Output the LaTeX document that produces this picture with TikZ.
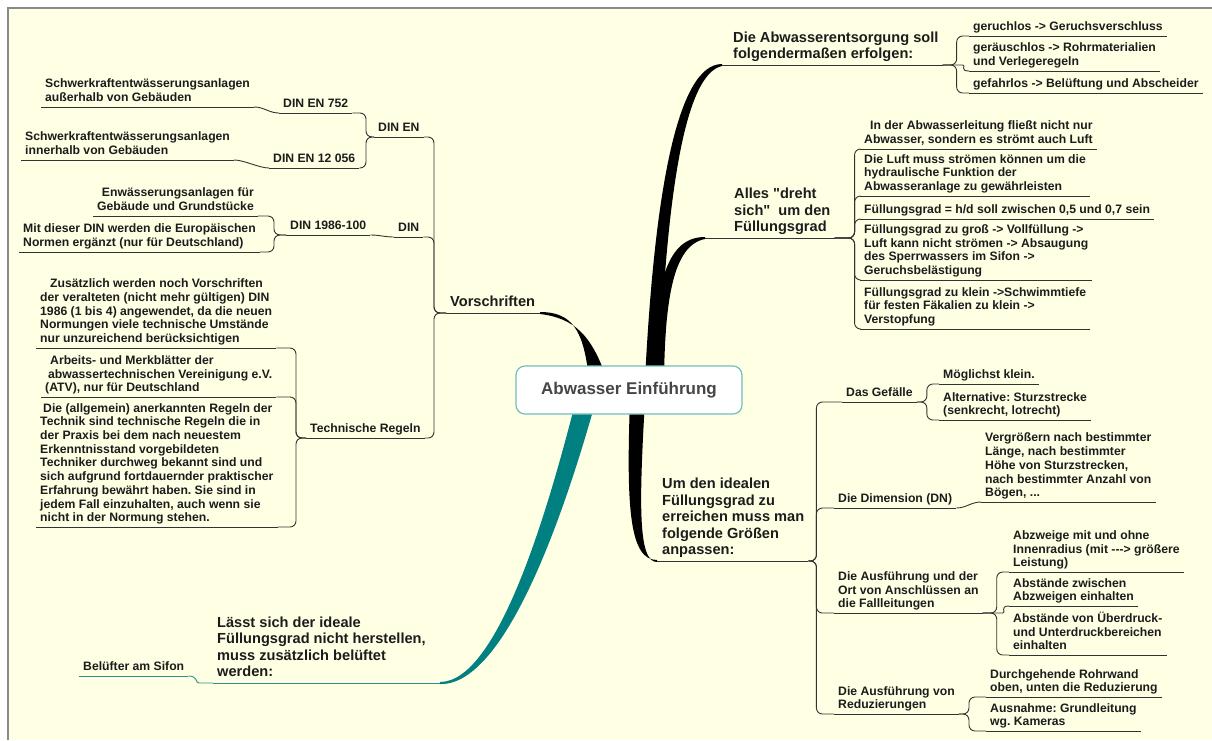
\documentclass[tikz,border=0pt]{standalone}
\usepackage{fontspec}
\setmainfont{Liberation Sans}[Ligatures=TeXOff]
\usepackage{tikz}
\frenchspacing

\definecolor{paper}{HTML}{FFFFE4}
\definecolor{framegray}{HTML}{8A8A8A}
\definecolor{ink}{HTML}{1C1C1C}
\definecolor{wirec}{HTML}{333333}
\definecolor{tealbr}{HTML}{008080}
\definecolor{tealln}{HTML}{2F8F8F}
\definecolor{boxline}{HTML}{72BDBD}
\definecolor{titlegray}{HTML}{464646}

\begin{document}
\begin{tikzpicture}[x=1pt,y=-1pt]

\tikzstyle{topic}=[anchor=south west,inner xsep=4pt,inner ysep=1pt,align=left,text=ink,execute at end node=\strut]
\tikzstyle{sm}=[topic,font=\fontsize{12.2}{13.7}\selectfont\bfseries]
\tikzstyle{lg}=[topic,font=\fontsize{14.6}{16.5}\selectfont\bfseries]
\tikzstyle{wire}=[draw=wirec,line width=0.9pt,rounded corners=6pt]
\tikzstyle{twire}=[wire,draw=tealln]
\tikzstyle{toR}=[to path={.. controls +(10,0) and +(-10,0) .. (\tikztotarget)}]
\tikzstyle{toL}=[to path={.. controls +(-10,0) and +(10,0) .. (\tikztotarget)}]

\useasboundingbox (0,0) rectangle (1212,740);
\fill[paper] (8,8) rectangle (1212,740);
\draw[framegray,line width=1.4pt] (8,740) -- (8,8) -- (1212,8);

%% thick branches out of the centre
\fill[black] (645,380) .. controls (654,200) and (676,64) .. (722,64) -- (722,66)
  .. controls (684,74) and (666,200) .. (659,380) -- cycle;
\fill[black] (651,380) .. controls (655,290) and (664,237) .. (705,237) -- (705,239)
  .. controls (673,245) and (665,300) .. (664,380) -- cycle;
\fill[black] (630,400) .. controls (626,510) and (630,560) .. (657,560) -- (657,562)
  .. controls (638,562) and (639,505) .. (645,400) -- cycle;
\fill[black] (589,380) .. controls (584,330) and (572,312) .. (540,312) -- (540,314)
  .. controls (574,318) and (592,335) .. (607,380) -- cycle;
\fill[tealbr] (576,400) .. controls (548,510) and (498,682) .. (440,682) -- (440,684)
  .. controls (505,686) and (564,515) .. (596,400) -- cycle;

\node[draw=boxline,fill=white,line width=1.2pt,rounded corners=9pt,minimum width=226pt,
  minimum height=48pt,font=\fontsize{17}{20}\selectfont\bfseries,text=titlegray] (c) at (629,390) {Abwasser Einführung};

%% right side
\node[lg] (ae) at (729,65) {Die Abwasserentsorgung soll\\folgendermaßen erfolgen:};
\node[sm] (g1) at (969,36) {geruchlos -> Geruchsverschluss};
\node[sm] (g2) at (969,71) {geräuschlos -> Rohrmaterialien\\und Verlegeregeln};
\node[sm] (g3) at (969,93) {gefahrlos -> Belüftung und Abscheider};

\node[lg] (ad) at (730,238) {Alles "dreht\\sich"~ um den\\Füllungsgrad};
\node[sm] (f1) at (860,149) {\hspace*{6pt}In der Abwasserleitung fließt nicht nur\\Abwasser, sondern es strömt auch Luft};
\node[sm] (f2) at (860,196) {Die Luft muss strömen können um die\\hydraulische Funktion der\\Abwasseranlage zu gewährleisten};
\node[sm] (f3) at (860,219) {Füllungsgrad = h/d soll zwischen 0,5 und 0,7 sein};
\node[sm] (f4) at (860,280) {Füllungsgrad zu groß -> Vollfüllung ->\\Luft kann nicht strömen -> Absaugung\\des Sperrwassers im Sifon ->\\Geruchsbelästigung};
\node[sm] (f5) at (860,329) {Füllungsgrad zu klein ->Schwimmtiefe\\für festen Fäkalien zu klein ->\\Verstopfung};

\node[lg] (um) at (658,561) {Um den idealen\\Füllungsgrad zu\\erreichen muss man\\folgende Größen\\anpassen:};
\node[sm] (ge) at (842,402) {Das Gefälle};
\node[sm] (ge1) at (939,384) {Möglichst klein.};
\node[sm] (ge2) at (939,420) {Alternative: Sturzstrecke\\(senkrecht, lotrecht)};
\node[sm] (di) at (834,508) {Die Dimension (DN)};
\node[sm] (di1) at (981,502) {Vergrößern nach bestimmter\\Länge, nach bestimmter\\Höhe von Sturzstrecken,\\nach bestimmter Anzahl von\\Bögen, ...};
\node[sm] (au) at (834,613) {Die Ausführung und der\\Ort von Anschlüssen an\\die Fallleitungen};
\node[sm] (au1) at (1009,572) {Abzweige mit und ohne\\Innenradius (mit ---> größere\\Leistung)};
\node[sm] (au2) at (1009,606) {Abstände zwischen\\Abzweigen einhalten};
\node[sm] (au3) at (1009,655) {Abstände von Überdruck-\\und Unterdruckbereichen\\einhalten};
\node[sm] (re) at (834,714) {Die Ausführung von\\Reduzierungen};
\node[sm] (re1) at (986,697) {Durchgehende Rohrwand\\oben, unten die Reduzierung};
\node[sm] (re2) at (986,731) {Ausnahme: Grundleitung\\wg. Kameras};

%% left side
\node[lg] (vo) at (446,313) {Vorschriften};
\node[sm] (de) at (374,137) {DIN EN};
\node[sm] (d752) at (279,113) {DIN EN 752};
\node[sm] (s1) at (41,107) {Schwerkraftentwässerungsanlagen\\außerhalb von Gebäuden};
\node[sm] (d12) at (269,168) {DIN EN 12 056};
\node[sm] (s2) at (21,160) {Schwerkraftentwässerungsanlagen\\innerhalb von Gebäuden};
\node[sm] (dn) at (394,237) {DIN};
\node[sm] (d1986) at (286,235) {DIN 1986-100};
\node[sm,align=right] (ew) at (93,216) {Enwässerungsanlagen für\\Gebäude und Grundstücke};
\node[sm] (mi) at (19,252) {Mit dieser DIN werden die Europäischen\\Normen ergänzt (nur für Deutschland)};
\node[sm] (tr) at (306,438) {Technische Regeln};
\node[sm] (zu) at (36,348) {\hspace*{10pt}Zusätzlich werden noch Vorschriften\\der veralteten (nicht mehr gültigen) DIN\\1986 (1 bis 4) angewendet, da die neuen\\Normungen viele technische Umstände\\nur unzureichend berücksichtigen};
\node[sm] (ar) at (41,397) {\hspace*{5pt}Arbeits- und Merkblätter der\\\hspace*{3pt}abwassertechnischen Vereinigung e.V.\\(ATV), nur für Deutschland};
\node[sm] (an) at (36,527) {\hspace*{3pt}Die (allgemein) anerkannten Regeln der\\Technik sind technische Regeln die in\\der Praxis bei dem nach neuestem\\Erkenntnisstand vorgebildeten\\Techniker durchweg bekannt sind und\\sich aufgrund fortdauernder praktischer\\Erfahrung bewährt haben. Sie sind in\\jedem Fall einzuhalten, auch wenn sie\\nicht in der Normung stehen.};

\node[lg] (la) at (213,683) {Lässt sich der ideale\\Füllungsgrad nicht herstellen,\\muss zusätzlich belüftet\\werden:};
\node[sm] (bs) at (79,676) {Belüfter am Sifon};

%% underlines
\foreach \n in {ae,g1,g2,g3,ad,f1,f2,f3,f4,f5,um,ge,ge1,ge2,di,di1,au,au1,au2,au3,re,re1,re2,
  vo,de,d752,d12,s1,s2,dn,d1986,ew,mi,tr,zu,ar,an}
  \draw[wire] (\n.south west) -- (\n.south east);
\foreach \n in {la,bs}
  \draw[twire] (\n.south west) -- (\n.south east);

%% connectors
\draw[wire] (722,65) -- (ae.south west);
\foreach \n in {g1,g3}
  \draw[wire] (ae.south east) -- ++(14,0) |- (\n.south west);
\draw[wire] (ae.south east) -- ++(14,0) to[toR] (g2.south west);

\draw[wire] (705,238) -- (ad.south west);
\foreach \n in {f1,f2,f3,f4,f5}
  \draw[wire] (ad.south east) -- ++(20,0) |- (\n.south west);

\draw[wire] (657,561) -- (um.south west);
\foreach \n in {ge,di,au,re}
  \draw[wire] (um.south east) -- ++(8,0) |- (\n.south west);
\foreach \n in {ge1,ge2}
  \draw[wire] (ge.south east) -- ++(10,0) |- (\n.south west);
\draw[wire] (di.south east) to[toR] (di1.south west);
\foreach \n in {au1,au3}
  \draw[wire] (au.south east) -- ++(14,0) |- (\n.south west);
\draw[wire] (au.south east) -- ++(14,0) to[toR] (au2.south west);
\foreach \n in {re1,re2}
  \draw[wire] (re.south east) -- ++(10,0) |- (\n.south west);

\draw[wire] (540,313) -- (vo.south east);
\foreach \n in {de,dn,tr}
  \draw[wire] (vo.south west) -- ++(-12,0) |- (\n.south east);
\foreach \n in {d752,d12}
  \draw[wire] (de.south west) -- ++(-8,0) |- (\n.south east);
\draw[wire] (d752.south west) to[toL] (s1.south east);
\draw[wire] (d12.south west) to[toL] (s2.south east);
\draw[wire] (dn.south west) to[toL] (d1986.south east);
\foreach \n in {ew,mi}
  \draw[wire] (d1986.south west) -- ++(-12,0) |- (\n.south east);
\foreach \n in {zu,ar,an}
  \draw[wire] (tr.south west) -- ++(-10,0) |- (\n.south east);

\draw[twire] (440,683) -- (la.south east);
\draw[twire] (la.south west) -- ++(-8,0) to[toL] (bs.south east);

\end{tikzpicture}
\end{document}
